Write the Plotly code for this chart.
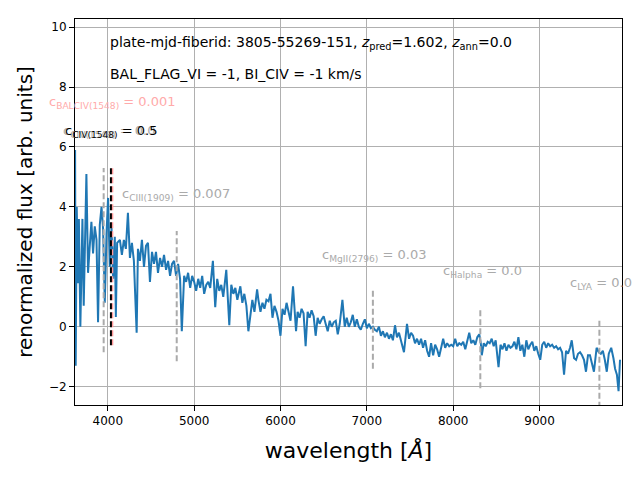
import plotly.graph_objs as go

# spectrum
wavelength = [3621, 3628, 3640, 3655, 3665, 3682, 3706, 3721, 3752, 3771, 3791, 3810, 3829, 3849,
              3869, 3887, 3907, 3927, 3945, 3965, 3985, 4003, 4023, 4043, 4062, 4081, 4093, 4108,
              4140, 4163, 4186, 4209, 4233, 4256, 4279, 4302, 4334, 4349, 4372, 4395, 4419, 4442,
              4465, 4488, 4512, 4535, 4558, 4581, 4605, 4628, 4651, 4675, 4698, 4721, 4744, 4767,
              4791, 4814, 4837, 4857, 4884, 4907, 4930, 4954, 4977, 5000, 5023, 5047, 5070, 5093,
              5116, 5140, 5163, 5186, 5217, 5244, 5267, 5291, 5314, 5337, 5372, 5407, 5430, 5454,
              5477, 5500, 5535, 5558, 5581, 5605, 5628, 5651, 5674, 5698, 5729, 5744, 5768, 5791,
              5814, 5837, 5861, 5884, 5907, 5930, 5954, 5977, 6000, 6023, 6047, 6070, 6093, 6116,
              6145, 6163, 6180, 6198, 6221, 6244, 6267, 6291, 6314, 6337, 6360, 6384, 6407, 6430,
              6453, 6477, 6500, 6523, 6547, 6570, 6593, 6616, 6640, 6663, 6686, 6717, 6744, 6767,
              6791, 6814, 6837, 6860, 6884, 6907, 6930, 6954, 6977, 7000, 7023, 7047, 7070, 7093,
              7116, 7140, 7163, 7186, 7209, 7233, 7256, 7279, 7302, 7326, 7349, 7372, 7395, 7430,
              7465, 7489, 7512, 7535, 7558, 7581, 7605, 7628, 7651, 7675, 7698, 7721, 7744, 7768,
              7791, 7814, 7837, 7861, 7884, 7907, 7930, 7954, 7977, 8000, 8023, 8047, 8070, 8093,
              8116, 8140, 8163, 8186, 8209, 8233, 8256, 8279, 8302, 8320, 8331, 8354, 8377, 8400,
              8423, 8446, 8469, 8492, 8525, 8548, 8571, 8594, 8617, 8640, 8663, 8686, 8709, 8732,
              8755, 8778, 8801, 8824, 8847, 8870, 8893, 8916, 8939, 8962, 8985, 9008, 9031, 9054,
              9077, 9100, 9123, 9146, 9169, 9192, 9215, 9238, 9261, 9284, 9307, 9330, 9353, 9373,
              9400, 9423, 9446, 9469, 9492, 9515, 9538, 9561, 9584, 9607, 9630, 9661, 9687, 9710,
              9733, 9756, 9779, 9802, 9830, 9856, 9875, 9896, 9915, 9932, 9952]
flux = [5.9, -1.3, 4.0, 1.45, 3.6, 0.0, 3.6, 0.7, 5.1, 1.8, 2.7, 3.5, 2.45, 3.35,
        2.9, 0.15, 3.4, 4.0, 3.3, 0.8, 3.1, 4.3, 2.0, 3.3, 1.6, 3.0, 0.33, 2.8,
        2.9, 2.4, 2.9, 2.6, 3.8, 2.3, 2.8, 2.2, -0.2, 2.6, 2.2, 2.9, 2.0, 2.7,
        2.8, 1.5, 2.5, 2.1, 2.5, 1.8, 2.3, 2.0, 2.4, 1.9, 2.2, 1.7, 2.1, 2.2,
        1.7, 2.1, 1.6, -0.15, 1.7, 1.5, 1.8, 1.3, 1.7, 1.5, 1.2, 1.6, 1.3, 1.7,
        1.1, 1.4, 1.5, 1.3, 2.2, 0.65, 1.6, 1.2, 1.4, 1.0, 1.9, 0.05, 1.4, 1.1,
        1.3, 0.9, 1.35, 0.8, 1.1, 0.7, -0.15, 0.4, 0.9, 0.5, 1.25, 0.9, 0.5, 0.8,
        0.6, 0.9, 0.85, 1.1, 0.3, 0.7, 0.5, 0.2, -0.3, 0.6, 0.4, 0.8, 0.5, 0.2,
        1.35, 0.6, -0.15, 0.5, 0.3, 0.6, 0.45, -0.65, 0.5, 0.3, 0.55, 0.35, -0.3, 0.3,
        0.1, 0.25, 0.35, 0.1, -0.15, 0.2, 0.0, 0.15, 0.2, -0.25, 0.1, 0.9, 0.0, 0.3,
        0.0, 0.15, 0.4, 0.0, 0.25, 0.0, -0.1, 0.1, 0.25, -0.05, 0.1, -0.05, 0.0, -0.1,
        -0.15, 0.0, -0.3, -0.15, -0.35, -0.2, -0.4, -0.25, -0.45, 0.05, -0.35, -0.2, -0.5, -0.85,
        0.1, -0.4, -0.2, -0.3, -0.55, -0.4, -0.6, -0.4, -0.7, -0.45, -0.8, -1.0, -0.55, -0.95,
        -0.6, -0.75, -1.0, -0.65, -0.4, -0.7, -0.55, -0.65, -0.6, -0.65, -0.4, -0.65, -0.55, -0.6,
        -0.5, -0.75, -0.45, -0.2, -0.55, -0.45, -0.6, -0.35, -0.25, -0.55, -0.95, -0.55, -0.65, -0.5,
        -0.55, -0.4, -0.65, -0.45, -1.35, -0.6, -0.75, -0.55, -0.8, -0.6, -0.7, -0.65, -0.5, -0.75,
        -0.35, -0.8, -0.6, -1.0, -0.45, -0.75, -0.6, -0.5, -0.8, -0.65, -0.9, -1.1, -0.6, -0.5,
        -0.7, -0.55, -0.65, -0.6, -0.7, -0.65, -0.75, -0.7, -0.85, -1.6, -0.8, -0.9, -0.7, -0.45,
        -1.05, -1.1, -0.9, -0.85, -0.95, -1.1, -1.5, -0.95, -0.95, -1.25, -1.5, -0.7, -0.85, -0.9,
        -0.8, -1.1, -1.5, -0.9, -0.7, -1.05, -1.4, -1.6, -2.15, -1.1]

# emission line markers: position, top, bottom
gray_wl = [3952, 4798, 7070, 8314, 9693]
gray_top = [5.3, 3.2, 1.2, 0.65, 0.25]
gray_bottom = [-0.85, -1.15, -1.4, -2.05, -2.7]
bal_wl, bal_top, bal_bottom = 4052, 5.37, -0.62
civ_wl, civ_top, civ_bottom = 4036, 5.37, -0.62

labels = ['c<sub>CIII(1909)</sub> = 0.007', 'c<sub>MgII(2796)</sub> = 0.03',
          'c<sub>Halpha</sub> = 0.0', 'c<sub>LYA</sub> = 0.0']
label_wl = [4141, 6460, 7856, 9328]
label_y = [4.4, 2.37, 1.84, 1.46]

FONT = 'DejaVu Sans'
GRAY = '#aaaaaa'

fig = go.Figure()
fig.add_trace(go.Scatter(x=wavelength, y=flux, mode='lines',
                         line=dict(color='#1f77b4', width=2)))
for wl, top, bottom in zip(gray_wl, gray_top, gray_bottom):
    fig.add_trace(go.Scatter(x=[wl, wl], y=[bottom, top], mode='lines',
                             line=dict(color=GRAY, width=2, dash='6px,3px')))
fig.add_trace(go.Scatter(x=[bal_wl, bal_wl], y=[bal_bottom, bal_top], mode='lines',
                         line=dict(color='#ff9999', width=2, dash='6px,3px')))
fig.add_trace(go.Scatter(x=[civ_wl, civ_wl], y=[civ_bottom, civ_top], mode='lines',
                         line=dict(color='black', width=2, dash='6px,3px')))

annotations = [
    dict(x=4000, y=9.47, xref='x', yref='y',
         text='plate-mjd-fiberid: 3805-55269-151, <i>z</i><sub>pred</sub>=1.602, <i>z</i><sub>ann</sub>=0.0',
         font=dict(size=14, color='black')),
    dict(x=4000, y=8.43, xref='x', yref='y', text='BAL_FLAG_VI = -1, BI_CIV = -1 km/s',
         font=dict(size=14, color='black')),
    dict(x=-0.051, y=7.5, xref='paper', yref='y', text='c<sub>BALCIV(1548)</sub> = 0.001',
         font=dict(size=13, color='#ffaaaa')),
    dict(x=-0.026, y=6.53, xref='paper', yref='y', text='c<sub>CIV(1548)</sub> = 0.0',
         font=dict(size=13, color=GRAY)),
    dict(x=-0.022, y=6.53, xref='paper', yref='y', text='c<sub>CIV(1548)</sub> = 0.5',
         font=dict(size=13, color='black')),
]
for text, wl, yv in zip(labels, label_wl, label_y):
    annotations.append(dict(x=wl, y=yv, xref='x', yref='y', text=text,
                            font=dict(size=13, color=GRAY)))
for a in annotations:
    a.update(showarrow=False, xanchor='left', yanchor='middle')

axis_style = dict(showline=True, mirror=True, linecolor='black', linewidth=1,
                  ticks='outside', ticklen=5, tickcolor='black', tickwidth=1,
                  showgrid=True, gridcolor='#b0b0b0', gridwidth=1, zeroline=False,
                  tickfont=dict(size=12, color='black'))

# the page body adds an 8px offset, so the figure is sized to the visible window
fig.update_layout(
    width=632, height=472, showlegend=False,
    paper_bgcolor='white', plot_bgcolor='white',
    font=dict(family=FONT, color='black'),
    margin=dict(l=67, r=18, t=11, b=75, autoexpand=False),
    annotations=annotations,
    xaxis=dict(range=[3620, 9955], tickvals=[4000, 5000, 6000, 7000, 8000, 9000],
               title=dict(text='wavelength [<i>Å</i>]', font=dict(size=22), standoff=15),
               **axis_style),
    yaxis=dict(range=[-2.61, 10.27], tickvals=[-2, 0, 2, 4, 6, 8, 10],
               title=dict(text='renormalized flux [arb. units]', font=dict(size=20), standoff=10),
               **axis_style),
)

fig.write_html("out.html")
